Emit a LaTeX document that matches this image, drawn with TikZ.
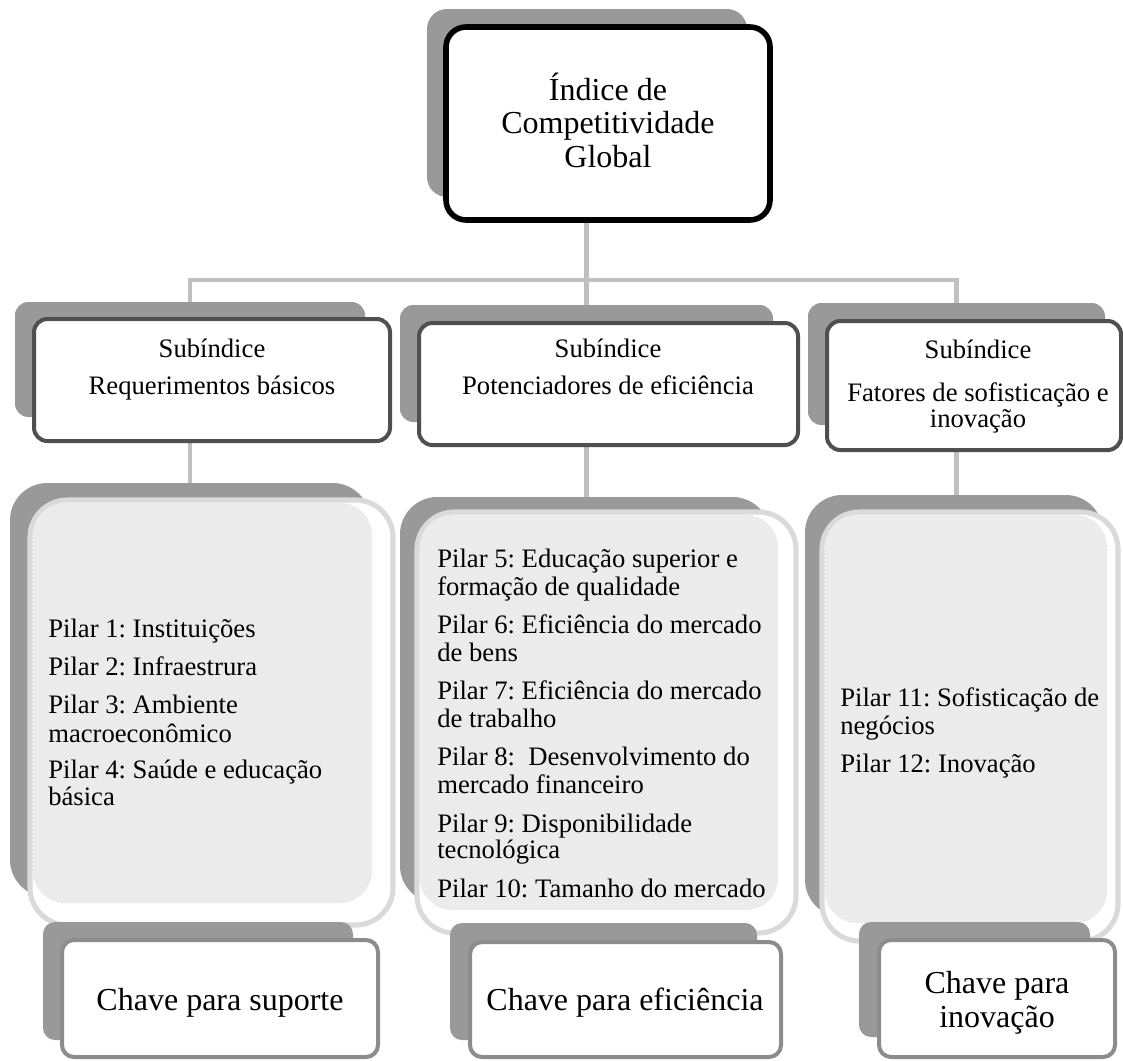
\documentclass[tikz,border=0pt]{standalone}
\usepackage{fontspec}
\setmainfont{Liberation Serif}
\usetikzlibrary{patterns}
\definecolor{shd}{HTML}{999999}
\definecolor{subline}{HTML}{4F4F4F}
\definecolor{pilline}{HTML}{DADADA}
\definecolor{keyline}{HTML}{8C8C8C}
\definecolor{connc}{HTML}{C0C0C0}
\definecolor{dotbg}{HTML}{F0F0F0}
\pgfdeclarelayer{bg}
\pgfsetlayers{bg,main}
\frenchspacing
\newcommand\mybox[6]{%
  \node[#2, anchor=north west, minimum width={(#5-#3)*0.75pt}, minimum height={(#6-#4)*0.75pt}] (#1) at (#3,#4) {};}
\tikzset{
  base/.style={rectangle, inner sep=0pt, outer sep=0pt},
  shadowbox/.style={base, fill=shd, rounded corners=#1},
  shadowbox/.default=10pt,
  topbox/.style={base, draw=black, line width=4.2pt, fill=white, rounded corners=15pt},
  subbox/.style={base, draw=subline, line width=3pt, fill=white, rounded corners=10pt},
  pilbox/.style={base, draw=pilline, line width=3.8pt, fill=white, rounded corners=28pt},
  dotbox/.style={base, preaction={fill=dotbg}, pattern=crosshatch dots, pattern color=gray!40, rounded corners=24pt},
  keybox/.style={base, draw=keyline, line width=3pt, fill=white, rounded corners=9pt},
  conn/.style={draw=connc, line width=3.4pt},
  bigtxt/.style={inner sep=0pt, font=\fontsize{24}{25}\selectfont},
  midtxt/.style={inner sep=0pt, font=\fontsize{20}{21}\selectfont},
}
\begin{document}
\begin{tikzpicture}[x=0.75pt,y=-0.75pt]
\useasboundingbox (0,0) rectangle (1123,1060);
% top
\mybox{topsh}{shadowbox=15pt}{427}{9}{747}{197}
\mybox{top}{topbox}{446}{27}{770}{220}
\node[bigtxt, anchor=base] (t1) at (608,100) {Índice de};
\node[bigtxt, anchor=base] (t2) at (608,133) {Competitividade};
\node[bigtxt, anchor=base] (t3) at (608,167) {Global};
% subindices
\mybox{s1sh}{shadowbox=10pt}{15}{302}{365}{417}
\mybox{s1}{subbox}{34}{319}{390}{441}
\mybox{s2sh}{shadowbox=10pt}{400}{305}{773}{422}
\mybox{s2}{subbox}{419}{323}{798}{445}
\mybox{s3sh}{shadowbox=10pt}{808}{303}{1105}{425}
\mybox{s3}{subbox}{827}{321}{1121}{450}
\node[midtxt, anchor=base] (s1a) at (212,357) {Subíndice};
\node[midtxt, anchor=base] (s1b) at (212,394) {Requerimentos básicos};
\node[midtxt, anchor=base] (s2a) at (608,357) {Subíndice};
\node[midtxt, anchor=base] (s2b) at (608,394) {Potenciadores de eficiência};
\node[midtxt, anchor=base] (s3a) at (978,358) {Subíndice};
\node[midtxt, anchor=base] (s3b) at (978,401) {Fatores de sofisticação e};
\node[midtxt, anchor=base] (s3c) at (978,427) {inovação};
% pillar column 1
\mybox{p1sh}{shadowbox=28pt}{10}{483}{370}{897}
\mybox{p1}{pilbox}{30}{500}{393}{925}
\mybox{p1d}{dotbox}{33}{503}{372}{903}
\node[midtxt, anchor=base west] (p1l1) at (48,637) {Pilar 1: Instituições};
\node[midtxt, anchor=base west] (p1l2) at (48,675) {Pilar 2: Infraestrura};
\node[midtxt, anchor=base west] (p1l3) at (48,713) {Pilar 3: Ambiente};
\node[midtxt, anchor=base west] (p1l4) at (48,742) {macroeconômico};
\node[midtxt, anchor=base west] (p1l5) at (48,778) {Pilar 4: Saúde e educação};
\node[midtxt, anchor=base west] (p1l6) at (48,805) {básica};
% pillar column 2
\mybox{p2sh}{shadowbox=28pt}{400}{497}{770}{903}
\mybox{p2}{pilbox}{417}{512}{796}{933}
\mybox{p2d}{dotbox}{420}{515}{778}{910}
\node[midtxt, anchor=base west] (p2l1) at (437,567) {Pilar 5: Educação superior e};
\node[midtxt, anchor=base west] (p2l2) at (437,595) {formação de qualidade};
\node[midtxt, anchor=base west] (p2l3) at (437,633) {Pilar 6: Eficiência do mercado};
\node[midtxt, anchor=base west] (p2l4) at (437,661) {de bens};
\node[midtxt, anchor=base west] (p2l5) at (437,699) {Pilar 7: Eficiência do mercado};
\node[midtxt, anchor=base west] (p2l6) at (437,727) {de trabalho};
\node[midtxt, anchor=base west] (p2l7) at (437,765) {Pilar 8:\ \ Desenvolvimento do};
\node[midtxt, anchor=base west] (p2l8) at (437,793) {mercado financeiro};
\node[midtxt, anchor=base west] (p2l9) at (437,832) {Pilar 9: Disponibilidade};
\node[midtxt, anchor=base west] (p2l10) at (437,858) {tecnológica};
\node[midtxt, anchor=base west] (p2l11) at (437,897) {Pilar 10: Tamanho do mercado};
% pillar column 3
\mybox{p3sh}{shadowbox=28pt}{805}{495}{1103}{917}
\mybox{p3}{pilbox}{822}{512}{1118}{941}
\mybox{p3d}{dotbox}{825}{515}{1107}{923}
\node[midtxt, anchor=base west] (p3l1) at (840,706) {Pilar 11: Sofisticação de};
\node[midtxt, anchor=base west] (p3l2) at (840,734) {negócios};
\node[midtxt, anchor=base west] (p3l3) at (840,772) {Pilar 12: Inovação};
% keys
\mybox{k1sh}{shadowbox=9pt}{43}{922}{353}{1040}
\mybox{k1}{keybox}{62}{940}{378}{1057}
\node[bigtxt, anchor=base] (k1t) at (220,1010) {Chave para suporte};
\mybox{k2sh}{shadowbox=9pt}{450}{923}{757}{1040}
\mybox{k2}{keybox}{470}{942}{781}{1057}
\node[bigtxt, anchor=base] (k2t) at (625,1010) {Chave para eficiência};
\mybox{k3sh}{shadowbox=9pt}{859}{922}{1090}{1037}
\mybox{k3}{keybox}{879}{940}{1115}{1057}
\node[bigtxt, anchor=base] (k3a) at (997,993) {Chave para};
\node[bigtxt, anchor=base] (k3b) at (997,1027) {inovação};
% connectors
\begin{pgfonlayer}{bg}
\path (s2sh.north) ++(0,-25) coordinate (hub);
\draw[conn] (top.south -| hub) -- (hub) -- (s2sh.north);
\draw[conn] (s1sh.north) |- (hub) -| (s3sh.north);
\draw[conn] (s1sh.north |- s1.south) -- (p1sh.north);
\draw[conn] (s2sh.north |- s2.south) -- (s2sh.north |- p2sh.north);
\draw[conn] (s3sh.north |- s3.south) -- (s3sh.north |- p3sh.north);
\end{pgfonlayer}
\end{tikzpicture}
\end{document}
